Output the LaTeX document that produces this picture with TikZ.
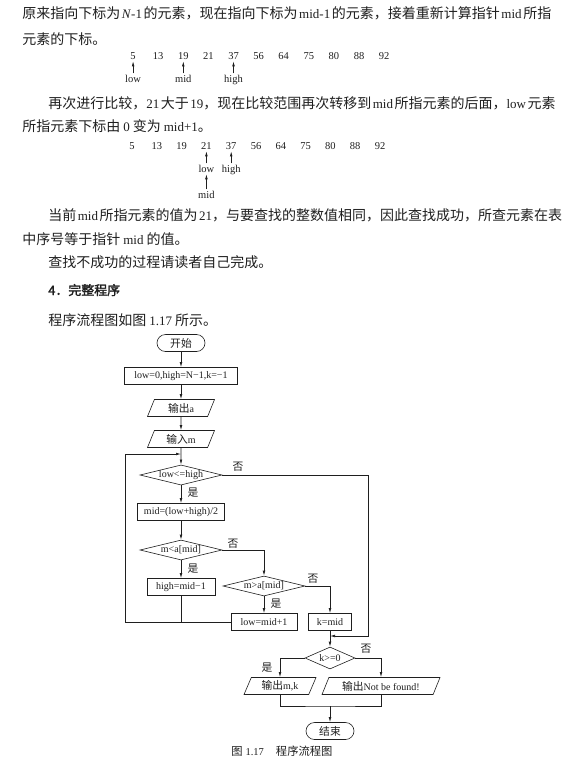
\documentclass[tikz,border=0pt]{standalone}
\usepackage{fontspec}
\setmainfont{Liberation Serif}
\newfontfamily\cjk{Noto Sans CJK SC}[Scale=1.077]
\newfontfamily\cjkbf{Noto Sans CJK SC}[Scale=1.077,FakeBold=2]
\usepackage{tikz}
\usetikzlibrary{shapes.geometric,arrows.meta,positioning}
\XeTeXlinebreaklocale "zh"
\XeTeXlinebreakskip=0pt plus 2pt minus 0.4pt
\newcommand\zh[1]{{\cjk #1}}
\newcommand\en[1]{{\rmfamily #1}}
\newcommand\xg{\hskip 3pt plus 2pt minus 1.5pt}
\newcommand\bodyfont{\fontsize{13}{16}\selectfont\cjk}
\newcommand\chartfont{\fontsize{10}{12}\selectfont}

\begin{document}
\begin{tikzpicture}[x=1pt, y=-1pt, line width=0.6pt, color=black!88,
    textline/.style={anchor=west, inner sep=0pt, text height=10pt, text depth=2pt, font=\bodyfont},
    num/.style={inner sep=1.5pt, font=\fontsize{10.5}{12}\selectfont},
    ptr/.style={-{Latex[length=5pt,width=2.6pt]}},
    term/.style={draw, rectangle, rounded corners=8.5pt, minimum width=48pt, minimum height=17pt, inner sep=1pt, font=\chartfont},
    proc/.style={draw, rectangle, minimum height=17pt, inner sep=2pt, font=\chartfont},
    io/.style={draw, trapezium, trapezium left angle=60, trapezium right angle=120, trapezium stretches body, minimum height=17pt, inner sep=1pt, font=\chartfont},
    test/.style={draw, diamond, shape aspect=4, minimum width=82pt, minimum height=20pt, inner sep=0pt, font=\chartfont},
    flow/.style={-{Latex[length=5pt,width=2.6pt]}},
    lbl/.style={inner sep=1pt, font=\chartfont\cjk}]
\useasboundingbox[fill=white] (0,0) rectangle (576,766);

% text before the first array
\node[textline] (l1) at (22,14) {\makebox[529pt][s]{原来指向下标为\xg\en{\textit{N}-1}\xg 的元素，现在指向下标为\xg\en{mid-1}\xg 的元素，接着重新计算指针\xg\en{mid}\xg 所指}};
\node[textline] (l2) at (22,40) {元素的下标。};

% array 1: low, mid, high
\foreach \v [count=\i] in {5,13,19,21,37,56,64,75,80,88,92}
    \node[num] (p\i) at ({108+25.1*\i},56) {\v};
\node[num, below=12pt of p1] (plow) {low};
\node[num, below=12pt of p3] (pmid) {mid};
\node[num, below=12pt of p5] (phigh) {high};
\draw[ptr] (plow) -- (p1);
\draw[ptr] (pmid) -- (p3);
\draw[ptr] (phigh) -- (p5);

% second step
\node[textline] (l3) at (48,104) {\makebox[503pt][s]{再次进行比较，\en{21}\xg 大于\xg\en{19}，现在比较范围再次转移到\xg\en{mid}\xg 所指元素的后面，\en{low}\xg 元素}};
\node[textline] (l4) at (22,127) {所指元素下标由\xg\en{0}\xg 变为\xg\en{mid+1}。};

% array 2: low/mid meet at 21
\foreach \v [count=\i] in {5,13,19,21,37,56,64,75,80,88,92}
    \node[num] (q\i) at ({107.2+24.8*\i},146) {\v};
\node[num, below=12pt of q4] (qlow) {low};
\node[num, below=12pt of q5] (qhigh) {high};
\node[num, below=15pt of qlow] (qmid) {mid};
\draw[ptr] (qlow) -- (q4);
\draw[ptr] (qhigh) -- (q5);
\draw[ptr] (qmid) -- (qlow);

% text after the arrays
\node[textline] (l5) at (48,216) {\makebox[503pt][s]{当前\xg\en{mid}\xg 所指元素的值为\xg\en{21}，与要查找的整数值相同，因此查找成功，所查元素在表}};
\node[textline] (l6) at (22,240) {中序号等于指针\xg\en{mid}\xg 的值。};
\node[textline] (l7) at (48,263) {查找不成功的过程请读者自己完成。};
\node[textline, font=\fontsize{12}{15}\selectfont\cjkbf] (head) at (48,291) {4．完整程序};
\node[textline] (l8) at (48,321) {程序流程图如图\xg\en{1.17}\xg 所示。};

% flowchart nodes
\node[term] (start) at (181,343) {\zh{开始}};
\node[proc, minimum width=113pt] (init) at (181,376) {low=0,high=N−1,k=−1};
\node[io, minimum width=67pt] (outa) at (181,408) {\zh{输出}a};
\node[io, minimum width=67pt] (inm) at (181,439) {\zh{输入}m};
\node[test] (c1) at (181,475) {low<=high};
\node[proc, minimum width=87pt] (calc) at (181,512) {mid=(low+high)/2};
\node[test] (c2) at (181,550) {m<a[mid]};
\node[proc, minimum width=68pt] (hi) at (181,587) {high=mid−1};
\node[test] (c3) at (264,586) {m>a[mid]};
\node[proc, minimum width=66pt] (lo) at (264,622) {low=mid+1};
\node[proc, minimum width=43pt] (found) at (330,622) {k=mid};
\node[test, minimum width=50pt, minimum height=22pt] (c4) at (330,658) {k>=0};
\node[io, minimum width=72pt] (okout) at (280,686) {\zh{输出}m,k};
\node[io, minimum width=118pt] (noout) at (381,686) {\zh{输出}Not be found!};
\node[term] (stop) at (330,731) {\zh{结束}};

\coordinate (loopin) at (181,454);
\coordinate (loopl) at (125,622);
\coordinate (rside) at (368,636);
\coordinate (merge) at (330,636);
\coordinate (bjoin) at (330,706);

% yes / no labels
\node[lbl] (y1) at (193,493) {是};
\node[lbl] (n1) at (238,467) {否};
\node[lbl] (y2) at (193,569) {是};
\node[lbl] (n2) at (233,544) {否};
\node[lbl] (y3) at (276,604) {是};
\node[lbl] (n3) at (313,579) {否};
\node[lbl] (y4) at (267,668) {是};
\node[lbl] (n4) at (366,649) {否};

% connectors
\draw[flow] (start) -- (init);
\draw[flow] (init) -- (outa);
\draw[flow] (outa) -- (inm);
\draw[flow] (inm) -- (c1);
\draw[flow] (c1) -- (calc);
\draw[flow] (c1.east) -| (rside) -- (merge);
\draw[flow] (calc) -- (c2);
\draw[flow] (c2) -- (hi);
\draw[flow] (c2.east) -| (c3.north);
\draw[flow] (c3) -- (lo);
\draw[flow] (c3.east) -| (found.north);
\draw (hi) -- (hi.south |- lo.west);
\draw[flow] (lo.west) -- (loopl) |- (loopin);
\draw[flow] (found) -- (c4);
\draw[flow] (c4.west) -| (okout.north);
\draw[flow] (c4.east) -| (noout.north);
\draw (okout.south) |- (bjoin) -| (noout.south);
\draw[flow] (bjoin) -- (stop);

% caption
\node[anchor=west, inner sep=0pt, font=\fontsize{10.5}{13}\selectfont\cjk] (cap) at (231,751) {图\xg\en{1.17}\hspace{12pt}程序流程图};
\end{tikzpicture}
\end{document}
